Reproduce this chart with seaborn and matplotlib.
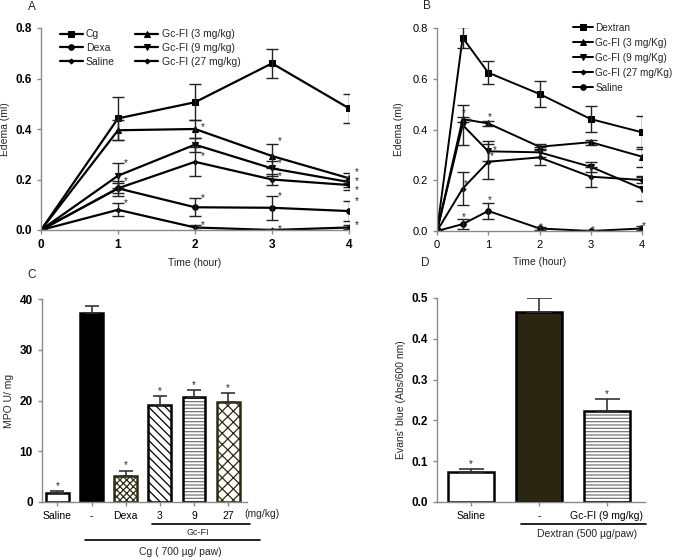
import seaborn as sns
import matplotlib.pyplot as plt
import numpy as np
import pandas as pd

# Panel A - carrageenan paw edema
a_time = [0, 1, 2, 3, 4]
a_cg = [0, 0.442, 0.506, 0.660, 0.482]
a_cg_err = [0, 0.085, 0.072, 0.057, 0.058]
a_dexa = [0, 0.165, 0.090, 0.088, 0.075]
a_dexa_err = [0, 0.02, 0.035, 0.048, 0.04]
a_saline = [0, 0.080, 0.010, 0.0, 0.010]
a_saline_err = [0, 0.025, 0.01, 0.003, 0.008]
a_gc3 = [0, 0.395, 0.400, 0.293, 0.205]
a_gc3_err = [0, 0.04, 0.035, 0.048, 0.02]
a_gc9 = [0, 0.215, 0.338, 0.244, 0.190]
a_gc9_err = [0, 0.05, 0.028, 0.03, 0.02]
a_gc27 = [0, 0.165, 0.270, 0.200, 0.178]
a_gc27_err = [0, 0.03, 0.058, 0.02, 0.02]
# (time index, star height in error-bar units) for points marked with *
a_stars = {'Dexa': [(2, 1), (3, 1), (4, 1)],
           'Saline': [(1, 1), (2, 1), (3, 1), (4, 1)],
           'Gc3': [(2, 0.2), (3, 1.2), (4, 1.3)],
           'Gc9': [(1, 1), (3, 0.7), (4, 0.2)],
           'Gc27': [(1, 1), (2, 0.4), (3, 0.6), (4, -0.9)]}

# Panel B - dextran paw edema
b_time = [0, 0.5, 1, 2, 3, 4]
b_dex = [0, 0.762, 0.624, 0.540, 0.441, 0.389]
b_dex_err = [0, 0.04, 0.045, 0.05, 0.05, 0.065]
b_gc3 = [0, 0.441, 0.424, 0.332, 0.350, 0.293]
b_gc3_err = [0, 0.01, 0.01, 0.01, 0.01, 0.04]
b_gc9 = [0, 0.418, 0.314, 0.310, 0.253, 0.167]
b_gc9_err = [0, 0.08, 0.04, 0.02, 0.02, 0.05]
b_gc27 = [0, 0.167, 0.273, 0.290, 0.214, 0.201]
b_gc27_err = [0, 0.065, 0.07, 0.03, 0.04, 0.01]
b_saline = [0, 0.027, 0.079, 0.010, 0.0, 0.010]
b_saline_err = [0, 0.02, 0.03, 0.005, 0.003, 0.008]
b_stars = {'Gc3': [(1, 2.5), (2, 2.5)], 'Gc9': [(1, 0.15), (2, 0.15)],
           'Gc27': [(1, 0.3), (2, 0.3)],
           'Saline': [(1, 1.4), (2, 1.4), (3, 1.4), (4, 1.4), (5, 1.4)]}

# Panel C - MPO
c_labels = ['Saline', '-', 'Dexa', '3', '9', '27']
c_values = [1.8, 37.2, 5.2, 19.2, 20.6, 19.8]
c_err = [0.3, 1.4, 1.0, 1.6, 1.4, 1.6]

# Panel D - Evans' blue
d_labels = ['Saline', '-', 'Gc-FI (9 mg/kg)']
d_values = [0.073, 0.465, 0.222]
d_err = [0.007, 0.035, 0.03]

sns.set_style('ticks')
plt.rcParams['font.family'] = ['Liberation Sans', 'DejaVu Sans']
plt.rcParams['hatch.linewidth'] = 0.9

fig = plt.figure(figsize=(6.81, 5.57), dpi=100)
W, H = 681, 557


def box(l, r, t, b):
    return [l / W, 1 - b / H, (r - l) / W, (b - t) / H]


def style_axis(ax, bold):
    for s in ['top', 'right']:
        ax.spines[s].set_visible(False)
    for s in ['left', 'bottom']:
        ax.spines[s].set_color('#8a8a8a')
        ax.spines[s].set_linewidth(1.0)
    ax.tick_params(colors='#8a8a8a', length=3, width=1, labelcolor='black',
                   labelsize=8.5 if bold else 8)
    if bold:
        for lab in ax.get_xticklabels() + ax.get_yticklabels():
            lab.set_fontweight('bold')


def draw_series(ax, x, y, e, marker, label, ms, lw):
    df = pd.DataFrame({'x': x, 'y': y})
    sns.lineplot(data=df, x='x', y='y', ax=ax, color='black', marker=marker,
                 markersize=ms, markeredgecolor='black', linewidth=lw, label=label)
    ax.errorbar(x, y, yerr=e, fmt='none', ecolor='#222222', elinewidth=1.0,
                capsize=4.5, capthick=1.0)


def draw_stars(ax, x, y, e, marks, dx):
    for i, side in marks:
        ax.text(x[i] + dx, y[i] + side * e[i], '*', ha='center', va='center', fontsize=7)


# ---------- A ----------
axA = fig.add_axes(box(41, 349, 28, 230))
draw_series(axA, a_time, a_cg, a_cg_err, 's', 'Cg', 4, 1.6)
draw_series(axA, a_time, a_dexa, a_dexa_err, 'o', 'Dexa', 4, 1.6)
draw_series(axA, a_time, a_saline, a_saline_err, 'D', 'Saline', 2.5, 1.6)
draw_series(axA, a_time, a_gc3, a_gc3_err, '^', 'Gc-FI (3 mg/kg)', 4, 1.6)
draw_series(axA, a_time, a_gc9, a_gc9_err, 'v', 'Gc-FI (9 mg/kg)', 4, 1.6)
draw_series(axA, a_time, a_gc27, a_gc27_err, 'D', 'Gc-FI (27 mg/kg)', 2.5, 1.6)
for key, y, e in [('Dexa', a_dexa, a_dexa_err), ('Saline', a_saline, a_saline_err),
                  ('Gc3', a_gc3, a_gc3_err), ('Gc9', a_gc9, a_gc9_err),
                  ('Gc27', a_gc27, a_gc27_err)]:
    draw_stars(axA, a_time, y, e, a_stars[key], 0.1)
axA.set_xlim(0, 4.0)
axA.set_ylim(0, 0.8)
axA.set_xticks([0, 1, 2, 3, 4])
axA.set_yticks([0, 0.2, 0.4, 0.6, 0.8])
axA.set_yticklabels(['0.0', '0.2', '0.4', '0.6', '0.8'])
axA.set_xlabel('Time (hour)', fontsize=7.5, labelpad=5)
axA.set_ylabel('Edema (ml)', fontsize=7.5, labelpad=4)
style_axis(axA, True)
axA.legend(ncol=2, frameon=False, loc='upper left', bbox_to_anchor=(0.03, 1.04),
           fontsize=7.5, handlelength=2.2, labelspacing=0.35, columnspacing=2.0,
           handletextpad=0.3)

# ---------- B ----------
axB = fig.add_axes(box(437, 642, 28, 231))
draw_series(axB, b_time, b_dex, b_dex_err, 's', 'Dextran', 4, 1.4)
draw_series(axB, b_time, b_gc3, b_gc3_err, '^', 'Gc-FI (3 mg/Kg)', 4, 1.4)
draw_series(axB, b_time, b_gc9, b_gc9_err, 'v', 'Gc-FI (9 mg/Kg)', 4, 1.4)
draw_series(axB, b_time, b_gc27, b_gc27_err, 'D', 'Gc-FI (27 mg/Kg)', 2.5, 1.4)
draw_series(axB, b_time, b_saline, b_saline_err, 'o', 'Saline', 4, 1.4)
for key, y, e, dx in [('Gc3', b_gc3, b_gc3_err, 0.03), ('Gc9', b_gc9, b_gc9_err, 0.13),
                      ('Gc27', b_gc27, b_gc27_err, 0.07), ('Saline', b_saline, b_saline_err, 0.03)]:
    draw_stars(axB, b_time, y, e, b_stars[key], dx)
axB.set_xlim(0, 4.0)
axB.set_ylim(0, 0.8)
axB.set_xticks([0, 1, 2, 3, 4])
axB.set_yticks([0, 0.2, 0.4, 0.6, 0.8])
axB.set_yticklabels(['0.0', '0.2', '0.4', '0.6', '0.8'])
axB.set_xlabel('Time (hour)', fontsize=7.5, labelpad=5)
axB.set_ylabel('Edema (ml)', fontsize=7.5, labelpad=6)
style_axis(axB, False)
axB.legend(frameon=False, loc='upper left', bbox_to_anchor=(0.62, 1.07),
           fontsize=7.2, handlelength=2.0, labelspacing=0.5, handletextpad=0.2)

# ---------- C ----------
axC = fig.add_axes(box(42, 247, 299, 502))
dfc = pd.DataFrame({'group': c_labels, 'value': c_values})
c_face = ['white', 'black', 'white', 'white', 'white', 'white']
c_hatch = [None, None, 'xxxxx', '\\\\\\\\', '-----', 'xxx']
c_hcol = ['black', 'black', '#2e2b12', 'black', '#777777', '#2e2b12']
c_edge = ['black', 'black', '#2e2b12', 'black', 'black', '#2e2b12']
sns.barplot(data=dfc, x='group', y='value', ax=axC, width=0.67, color='white')
for p, fc, h, hc in zip(axC.patches, c_face, c_hatch, c_hcol):
    p.set_facecolor(fc)
    p.set_hatch(h)
    p.set_edgecolor(hc)
    p.set_linewidth(0)
sns.barplot(data=dfc, x='group', y='value', ax=axC, width=0.67, fill=False,
            color='black', linewidth=1.8)
for p, ec in zip(axC.patches[len(c_labels):], c_edge):
    p.set_edgecolor(ec)
xc = np.arange(len(c_labels))
axC.errorbar(xc, c_values, yerr=[np.zeros(len(c_err)), c_err], fmt='none',
             ecolor='#333333', elinewidth=1.2, capsize=5, capthick=1.2)
for i in [0, 2, 3, 4, 5]:
    axC.text(xc[i], c_values[i] + c_err[i] + 1.0, '*', ha='center', va='center', fontsize=7)
axC.set_xlim(-0.45, 5.55)
axC.set_ylim(0, 40)
axC.set_yticks([0, 10, 20, 30, 40])
axC.set_xlabel('')
axC.set_ylabel('MPO U/ mg', fontsize=7.5, labelpad=4)
style_axis(axC, True)
for lab in axC.get_xticklabels():
    lab.set_fontweight('normal')
    lab.set_fontsize(7.5)
tr = axC.get_xaxis_transform()
axC.text(5.98, -0.06, '(mg/kg)', transform=tr, ha='center', va='center', fontsize=7.5)
axC.plot([2.77, 5.63], [-0.108, -0.108], transform=tr, color='black', lw=1.2, clip_on=False)
axC.text(4.1, -0.148, 'Gc-FI', transform=tr, ha='center', va='center', fontsize=6.5)
axC.plot([0.81, 5.92], [-0.187, -0.187], transform=tr, color='black', lw=1.2, clip_on=False)
axC.text(3.6, -0.246, 'Cg ( 700 µg/ paw)', transform=tr, ha='center', va='center', fontsize=7.5)

# ---------- D ----------
axD = fig.add_axes(box(437, 645, 298, 502))
dfd = pd.DataFrame({'group': d_labels, 'value': d_values})
d_face = ['white', '#2a2612', 'white']
d_hatch = [None, None, '-----']
d_hcol = ['black', 'black', '#777777']
sns.barplot(data=dfd, x='group', y='value', ax=axD, width=0.68, color='white')
for p, fc, h, hc in zip(axD.patches, d_face, d_hatch, d_hcol):
    p.set_facecolor(fc)
    p.set_hatch(h)
    p.set_edgecolor(hc)
    p.set_linewidth(0)
sns.barplot(data=dfd, x='group', y='value', ax=axD, width=0.68, fill=False,
            color='black', linewidth=1.8)
xd = np.arange(len(d_labels))
axD.errorbar(xd, d_values, yerr=[np.zeros(len(d_err)), d_err], fmt='none',
             ecolor='#333333', elinewidth=1.2, capsize=9, capthick=1.2)
for i in [0, 2]:
    axD.text(xd[i], d_values[i] + d_err[i] + 0.013, '*', ha='center', va='center', fontsize=7)
axD.set_xlim(-0.5, 2.56)
axD.set_ylim(0, 0.5)
axD.set_yticks([0, 0.1, 0.2, 0.3, 0.4, 0.5])
axD.set_yticklabels(['0.0', '0.1', '0.2', '0.3', '0.4', '0.5'])
axD.set_xlabel('')
axD.set_ylabel("Evans' blue (Abs/600 nm)", fontsize=7.5, labelpad=4)
style_axis(axD, True)
for lab in axD.get_xticklabels():
    lab.set_fontweight('normal')
    lab.set_fontsize(7.5)
trd = axD.get_xaxis_transform()
axD.plot([0.735, 2.57], [-0.108, -0.108], transform=trd, color='black', lw=1.2, clip_on=False)
axD.text(1.71, -0.157, 'Dextran (500 µg/paw)', transform=trd, ha='center', va='center', fontsize=7.5)

# panel letters
for txt, px, py in [('A', 32, 7), ('B', 427, 6), ('C', 32, 275), ('D', 425, 263)]:
    fig.text(px / W, 1 - py / H, txt, ha='center', va='center', fontsize=8.5)

fig.savefig('out.png', dpi=100)
